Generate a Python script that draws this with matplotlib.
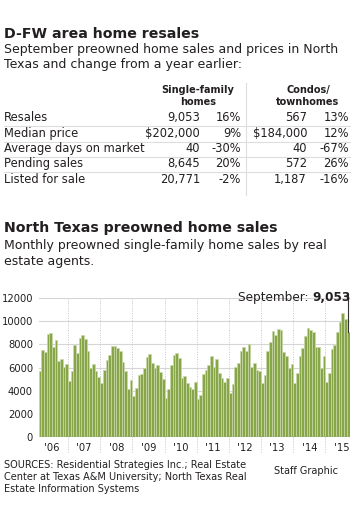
import numpy as np
import matplotlib
matplotlib.use("Agg")
import matplotlib.pyplot as plt

# Table data
row_labels = ["Resales", "Median price", "Average days on market", "Pending sales", "Listed for sale"]
sf_values = ["9,053", "$202,000", "40", "8,645", "20,771"]
sf_change = ["16%", "9%", "-30%", "20%", "-2%"]
condo_values = ["567", "$184,000", "40", "572", "1,187"]
condo_change = ["13%", "12%", "-67%", "26%", "-16%"]

# Monthly single-family sales (Feb 2006 - Sep 2015)
sales_2006 = [5730, 7480, 7340, 8870, 8990, 7800, 8350, 6560, 6710, 6010, 6300]
sales_2007 = [4810, 5700, 7940, 7220, 8520, 8790, 8460, 7420, 5990, 6330, 5670, 5180]
sales_2008 = [4630, 5780, 6620, 7110, 7860, 7860, 7650, 7420, 6500, 5670, 4140, 4920]
sales_2009 = [3510, 4260, 5380, 5470, 5990, 6910, 7140, 6360, 5990, 6240, 5610, 5040]
sales_2010 = [3400, 4140, 6190, 7110, 7250, 6820, 5060, 5270, 4680, 4290, 4170, 4750]
sales_2011 = [3250, 3600, 5400, 5780, 6220, 6970, 6070, 6730, 5520, 5060, 4780, 5070]
sales_2012 = [3810, 4600, 6070, 6360, 7430, 7770, 7400, 8040, 6080, 6370, 5750, 5720]
sales_2013 = [4700, 5350, 7420, 8180, 9150, 8830, 9300, 9210, 7370, 6950, 5980, 6300]
sales_2014 = [4680, 5560, 7000, 7680, 8700, 9410, 9220, 9060, 7800, 7750, 5990, 7000]
sales_2015 = [4760, 5560, 7580, 7900, 9030, 9970, 10690, 10190, 9053]
year_labels = ["'06", "'07", "'08", "'09", "'10", "'11", "'12", "'13", "'14", "'15"]

sales = (sales_2006 + sales_2007 + sales_2008 + sales_2009 + sales_2010
         + sales_2011 + sales_2012 + sales_2013 + sales_2014 + sales_2015)
# month index: Jan 2006 = 0, data starts in Feb 2006
months = np.arange(1, len(sales) + 1)

W, H = 358, 513
fig = plt.figure(figsize=(W / 100, H / 100), dpi=100)
TXT = "#231f20"
FONT = "DejaVu Sans"


def put(x, y, s, **kw):
    # place text using pixel coordinates from the top-left corner
    kw.setdefault("color", TXT)
    kw.setdefault("family", FONT)
    return fig.text(x / W, 1 - y / H, s, **kw)


def hline(x0, x1, y, **kw):
    fig.add_artist(plt.Line2D([x0 / W, x1 / W], [1 - y / H, 1 - y / H], **kw))


# Top section
put(4, 38, "D-FW area home resales", fontsize=10.2, weight="bold", va="baseline")
put(4, 53, "September preowned home sales and prices in North", fontsize=9.0, va="baseline")
put(4, 68, "Texas and change from a year earlier:", fontsize=9.0, va="baseline")

put(198, 93, "Single-family", fontsize=7, weight="bold", ha="center", va="baseline")
put(198, 105, "homes", fontsize=7, weight="bold", ha="center", va="baseline")
put(308, 93, "Condos/", fontsize=7, weight="bold", ha="center", va="baseline")
put(308, 105, "townhomes", fontsize=7, weight="bold", ha="center", va="baseline")

# vertical separator
fig.add_artist(plt.Line2D([246 / W, 246 / W], [1 - 83 / H, 1 - 195 / H], color="#dddddd", lw=0.8))

row_y = [121, 137, 152, 167, 183]
for i, lab in enumerate(row_labels):
    y = row_y[i]
    put(4, y, lab, fontsize=8.3, va="baseline")
    put(200, y, sf_values[i], fontsize=8.3, ha="right", va="baseline")
    put(241, y, sf_change[i], fontsize=8.3, ha="right", va="baseline")
    put(307, y, condo_values[i], fontsize=8.3, ha="right", va="baseline")
    put(349, y, condo_change[i], fontsize=8.3, ha="right", va="baseline")
    if i < len(row_labels) - 1:
        hline(4, 350, y + 5, color="#dddddd", lw=0.8)

# Second section
put(4, 232, "North Texas preowned home sales", fontsize=10.2, weight="bold", va="baseline")
put(4, 249, "Monthly preowned single-family home sales by real", fontsize=9.0, va="baseline")
put(4, 265, "estate agents.", fontsize=9.0, va="baseline")

ax = fig.add_axes([38.5 / W, 1 - 437 / H, 311 / W, 139 / H])
ax.bar(months, sales, width=1.0, color="#87a64a", edgecolor="#c9d9a6", linewidth=0.5, zorder=3)
ax.set_xlim(0.5, 116.5)
ax.set_ylim(0, 12000)
ax.set_yticks(range(0, 12001, 2000))
ax.set_yticklabels([str(v) for v in range(0, 12001, 2000)], family=FONT, color=TXT)
ax.set_xticks([12 * i + 5.5 for i in range(len(year_labels))])
ax.set_xticklabels(year_labels, family=FONT, color=TXT)
ax.tick_params(axis="y", length=0, labelsize=7.2, pad=4)
ax.tick_params(axis="x", length=0, labelsize=7.2, pad=4)
ax.grid(axis="y", color="#d5d5d5", lw=0.8, zorder=0)
for s in ax.spines.values():
    s.set_visible(False)
ax.axhline(0, color="#9a9a9a", lw=1, zorder=4)
for i in range(1, len(year_labels)):
    ax.axvline(12 * i - 0.5, ymin=-0.11, ymax=1, clip_on=False, color="#c4c4c4",
               ls=(0, (1, 1.5)), lw=0.7, zorder=1)

# September annotation
ax.plot([months[-1], months[-1]], [sales[-1], 12350], color="#333333", lw=0.8, clip_on=False, zorder=5)
bold = put(351, 301, "9,053", fontsize=8.7, weight="bold", ha="right", va="baseline")
fig.canvas.draw()
bb = bold.get_window_extent()
put(bb.x0 * W / fig.bbox.width, 301, "September: ", fontsize=8.7, ha="right", va="baseline")

# Footer
put(4, 468, "SOURCES: Residential Strategies Inc.; Real Estate", fontsize=7.0, va="baseline")
put(4, 480, "Center at Texas A&M University; North Texas Real", fontsize=7.0, va="baseline")
put(4, 492, "Estate Information Systems", fontsize=7.0, va="baseline")
put(338, 474, "Staff Graphic", fontsize=7.0, ha="right", va="baseline")

fig.savefig("out.png", dpi=100, facecolor="white")
